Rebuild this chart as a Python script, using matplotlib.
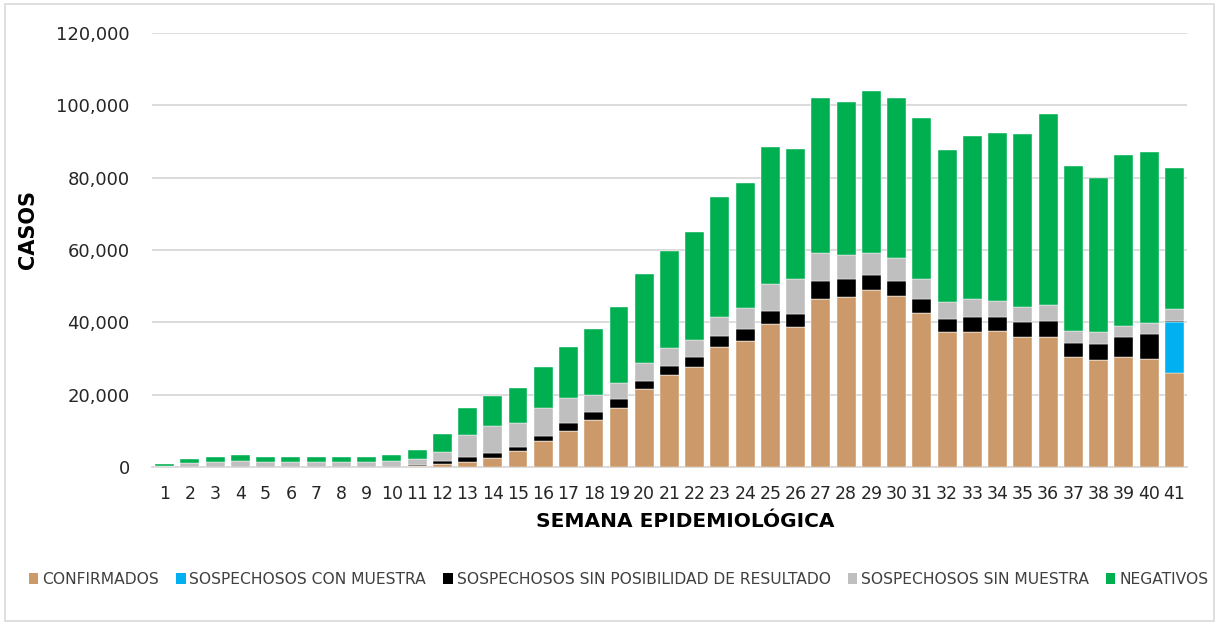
import matplotlib

matplotlib.use("Agg")
import matplotlib.pyplot as plt
from matplotlib.patches import Patch, Rectangle
from matplotlib.ticker import FuncFormatter
import numpy as np

semanas = list(range(1, 42))

confirmados = [0, 0, 0, 0, 0, 0, 0, 0, 0, 0, 400, 750, 1470, 2570, 4420, 7100, 10040,
               12910, 16310, 21570, 25350, 27730, 33260, 34920, 39540, 38800, 46370,
               47090, 48940, 47280, 42500, 37240, 37240, 37520, 35860, 35860, 30330,
               29670, 30500, 29860, 25910]
con_muestra = [0] * 40 + [14100]
sin_resultado = [0] * 10 + [250, 850, 1380, 1380, 1190, 1470, 2040, 2300, 2580, 2130,
                            2490, 2600, 2960, 3150, 3510, 3500, 5060, 4810, 4060, 4150,
                            3870, 3680, 4320, 4040, 4150, 4590, 4040, 4340, 5530, 6920, 360]
sin_muestra = [300, 1000, 1400, 1650, 1500, 1500, 1500, 1400, 1500, 1650, 1450, 2600,
               5910, 7390, 6640, 7740, 7000, 4780, 4340, 5060, 5060, 4780, 5340, 5810,
               7550, 9600, 7820, 6720, 6090, 6280, 5530, 4790, 4810, 4340, 4150, 4350,
               3320, 3230, 3040, 2950, 3230]
negativos = [500, 1100, 1500, 1650, 1400, 1400, 1400, 1300, 1400, 1650, 2600, 5000,
             7640, 8310, 9650, 11290, 14020, 18210, 20970, 24740, 26800, 29790, 33040,
             34570, 37950, 36050, 42650, 42380, 44860, 44390, 44500, 41940, 45180,
             46350, 47840, 52700, 45610, 42610, 47230, 47270, 39000]

series = [
    ("CONFIRMADOS", confirmados, "#CC9A6A"),
    ("SOSPECHOSOS CON MUESTRA", con_muestra, "#00B0F0"),
    ("SOSPECHOSOS SIN POSIBILIDAD DE RESULTADO", sin_resultado, "#000000"),
    ("SOSPECHOSOS SIN MUESTRA", sin_muestra, "#BFBFBF"),
    ("NEGATIVOS", negativos, "#00B050"),
]

fig = plt.figure(figsize=(12.18, 6.24), dpi=100)
ax = fig.add_axes([0.1248, 0.2516, 0.8497, 0.6955])

bottom = np.zeros(len(semanas))
for name, values, color in series:
    ax.bar(semanas, values, bottom=bottom, width=0.75, color=color,
           edgecolor="white", linewidth=0.3, zorder=3)
    bottom += np.array(values)

ax.set_xlim(0.5, 41.5)
ax.set_ylim(0, 120000)
ax.set_yticks(range(0, 120001, 20000))
ax.yaxis.set_major_formatter(FuncFormatter(lambda v, p: f"{int(v):,}"))
ax.set_xticks(semanas)
ax.grid(axis="y", color="#D9D9D9", linewidth=1.3, zorder=0)
for side in ("top", "right", "left"):
    ax.spines[side].set_visible(False)
ax.spines["bottom"].set_color("#D9D9D9")
ax.spines["bottom"].set_linewidth(1.3)
ax.tick_params(axis="both", length=0, labelsize=13, colors="#262626")
ax.tick_params(axis="y", pad=16)
ax.tick_params(axis="x", pad=13, labelsize=12.5)

ax.set_ylabel("CASOS", fontsize=15, fontweight="bold")
ax.yaxis.set_label_coords(-0.110, 0.548)
ax.set_xlabel("SEMANA EPIDEMIOLÓGICA", fontsize=14.5, fontweight="bold")
ax.xaxis.set_label_coords(0.515, -0.103)

handles = [Patch(facecolor=c, label=n) for n, _, c in series]
fig.legend(handles=handles, loc="center", bbox_to_anchor=(0.508, 0.072), ncol=5,
           frameon=False, fontsize=11.2, handlelength=0.6, handleheight=0.7,
           handletextpad=0.25, columnspacing=1.1, labelcolor="#404040")

fig.patches.append(Rectangle((0.004, 0.005), 0.993, 0.988, transform=fig.transFigure,
                             fill=False, edgecolor="#D9D9D9", linewidth=1.2))

fig.savefig("out.png", dpi=100)
